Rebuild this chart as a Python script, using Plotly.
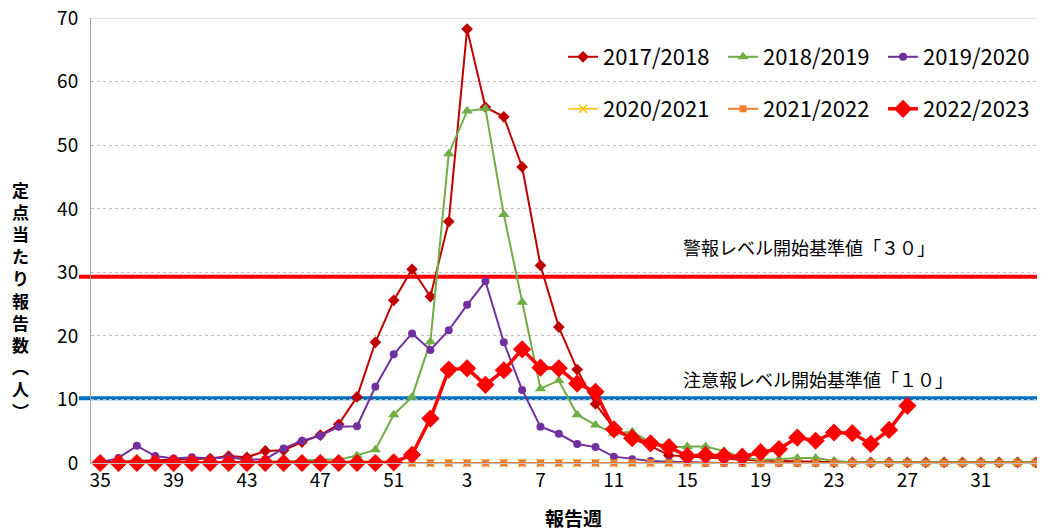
import plotly.graph_objects as go

weeks = [str(w) for w in list(range(35, 53)) + list(range(1, 35))]
tick_weeks = ["35", "39", "43", "47", "51", "3", "7", "11", "15", "19", "23", "27", "31"]

s2017 = [0.1, 0.2, 0.3, 0.3, 0.4, 0.5, 0.7, 1.1, 0.9, 1.9, 2.0, 3.3, 4.4, 6.1, 10.4, 19.0, 25.6, 30.5,
         26.2, 38.0, 68.3, 56.0, 54.5, 46.6, 31.1, 21.4, 14.7, 9.3, 5.5, 3.8, 2.7, 1.2, 1.0, 0.8,
         0.6, 0.5, 0.4, 0.3, 0.2, 0.2, 0.1, 0.1, 0.1, 0.1, 0.1, 0.1, 0.1, 0.1, 0.1, 0.1, 0.1, 0.1]
s2018 = [0.0, 0.0, 0.0, 0.0, 0.0, 0.1, 0.1, 0.1, 0.1, 0.2, 0.2, 0.3, 0.6, 0.5, 1.2, 2.1, 7.6, 10.4,
         19.1, 48.7, 55.4, 55.8, 39.1, 25.3, 11.7, 13.0, 7.6, 6.0, 4.7, 4.9, 3.2, 2.4, 2.6, 2.6,
         1.9, 0.8, 0.5, 0.6, 0.8, 0.8, 0.3, 0.1, 0.1, 0.1, 0.1, 0.1, 0.1, 0.1, 0.1, 0.1, 0.1, 0.1]
s2019 = [0.1, 0.8, 2.7, 1.1, 0.7, 0.9, 0.7, 0.9, 0.5, 0.6, 2.3, 3.5, 4.3, 5.7, 5.8, 12.0, 17.1, 20.4,
         17.8, 20.9, 24.9, 28.6, 19.0, 11.5, 5.7, 4.6, 3.0, 2.5, 1.0, 0.6, 0.3, 0.2, 0.1, 0.0,
         0.0, 0.0, 0.0, 0.0, 0.0, 0.0, 0.0, 0.0, 0.0, 0.0, 0.0, 0.0, 0.0, 0.0, 0.0, 0.0, 0.0, 0.0]
s2020 = [0.0] * 52
s2021 = [0.0] * 52
s2022 = [0.0, 0.0, 0.0, 0.0, 0.0, 0.0, 0.0, 0.0, 0.0, 0.0, 0.0, 0.0, 0.0, 0.0, 0.0, 0.0, 0.1, 1.3,
         7.0, 14.7, 14.9, 12.3, 14.6, 17.9, 15.0, 14.9, 12.5, 11.2, 5.3, 3.9, 3.1, 2.5, 1.1, 1.25,
         1.1, 1.0, 1.7, 2.2, 4.0, 3.5, 4.8, 4.7, 3.0, 5.2, 9.0, None, None, None, None, None, None, None]

alert_level = 29.3
warning_level = 10.2
y_max = 70
alert_text = "警報レベル開始基準値「３０」"
warning_text = "注意報レベル開始基準値「１０」"
y_title_chars = list("定点当たり報告数") + ["︵", "人", "︶"]
x_title = "報告週"

FONT = "Noto Sans CJK JP"

series = [
    ("2017/2018", s2017, "#C00000", "diamond", 9, 2, "legend"),
    ("2018/2019", s2018, "#70AD47", "triangle-up", 10, 2, "legend"),
    ("2019/2020", s2019, "#7030A0", "circle", 8, 2, "legend"),
    ("2020/2021", s2020, "#FFC000", "x-thin-open", 8, 1.5, "legend2"),
    ("2021/2022", s2021, "#ED7D31", "square", 7, 2, "legend2"),
    ("2022/2023", s2022, "#FF0000", "diamond", 14, 3.5, "legend2"),
]

fig = go.Figure()
for name, vals, color, sym, size, lw, leg in series:
    fig.add_trace(go.Scatter(
        x=weeks, y=vals, name=name, mode="lines+markers",
        line=dict(color=color, width=lw),
        marker=dict(symbol=sym, size=size, color=color,
                    line=dict(color=color, width=1.5 if sym.startswith("x") else 0)),
        cliponaxis=False, legend=leg, connectgaps=False,
    ))

fig.add_shape(type="line", xref="paper", yref="y", x0=0, x1=1.0,
              y0=y_max, y1=y_max, line=dict(color="#D9D9D9", width=1), layer="below")
fig.add_shape(type="line", xref="paper", yref="y", x0=-0.0126, x1=1.0,
              y0=alert_level, y1=alert_level, line=dict(color="#FF0000", width=4), layer="below")
fig.add_shape(type="line", xref="paper", yref="y", x0=-0.0126, x1=1.0,
              y0=warning_level, y1=warning_level, line=dict(color="#0070C0", width=4), layer="below")

fig.add_annotation(text=alert_text, xref="paper", yref="paper", x=0.6185, y=(463 - 247) / 445,
                   xanchor="left", yanchor="middle", showarrow=False,
                   font=dict(family=FONT, size=18, color="#000"))
fig.add_annotation(text=warning_text, xref="paper", yref="paper", x=0.6185, y=(463 - 379) / 445,
                   xanchor="left", yanchor="middle", showarrow=False,
                   font=dict(family=FONT, size=18, color="#000"))

vt = "<br>".join(y_title_chars)
fig.add_annotation(text=vt, xref="paper", yref="paper", x=(20 - 91) / 954, y=(463 - 300) / 445,
                   xanchor="center", yanchor="middle", showarrow=False,
                   font=dict(family=FONT, size=17, color="#000", weight="bold"))
fig.add_annotation(text=x_title, xref="paper", yref="paper", x=(573 - 91) / 954, y=(463 - 517) / 445,
                   xanchor="center", yanchor="middle", showarrow=False,
                   font=dict(family=FONT, size=19, color="#000", weight="bold"))

# The page body has an 8px margin; the figure is sized/offset to compensate.
grid = dict(showgrid=True, gridcolor="#BFBFBF", griddash="dot", gridwidth=1)
fig.update_layout(
    width=1037, height=521,
    margin=dict(l=83, r=0, t=10, b=66, autoexpand=False),
    paper_bgcolor="white", plot_bgcolor="white",
    font=dict(family=FONT, color="#000"),
    xaxis=dict(type="category", categoryorder="array", categoryarray=weeks,
               range=[-0.5, len(weeks) - 0.5], autorange=False,
               tickvals=tick_weeks, ticktext=tick_weeks, showgrid=False,
               showline=True, linecolor="#BFBFBF", linewidth=1, automargin=False,
               ticks="", tickfont=dict(family=FONT, size=19, color="#000"),
               ticklabelstandoff=0, zeroline=False),
    yaxis=dict(range=[0, y_max + 0.05], autorange=False, dtick=10, tick0=0, **grid, automargin=False,
               showline=True, linecolor="#A6A6A6", linewidth=1, zeroline=False,
               ticks="", tickfont=dict(family=FONT, size=19, color="#000"),
               ticklabelstandoff=8, ticklabeloverflow="allow"),
    legend=dict(orientation="h", x=0.4948, y=(463 - 36) / 445, xanchor="left", yanchor="top",
                xref="paper", yref="paper", entrywidth=115, itemwidth=30,
                bgcolor="rgba(0,0,0,0)", font=dict(family=FONT, size=22, color="#000")),
    legend2=dict(orientation="h", x=0.4948, y=(463 - 88) / 445, xanchor="left", yanchor="top",
                 xref="paper", yref="paper", entrywidth=115, itemwidth=30,
                 bgcolor="rgba(0,0,0,0)", font=dict(family=FONT, size=22, color="#000")),
)

fig.write_html("out.html")
